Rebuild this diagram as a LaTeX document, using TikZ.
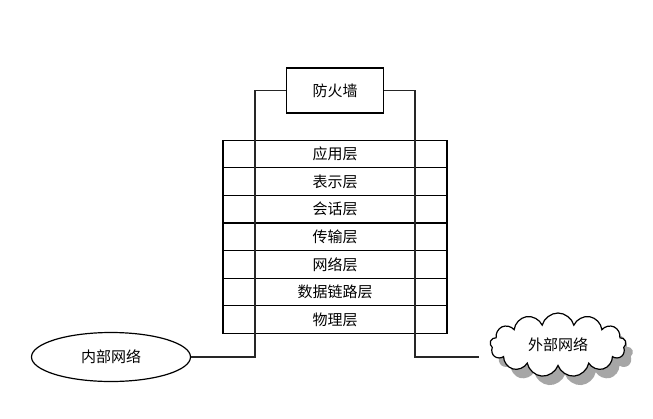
\documentclass[tikz,border=0pt]{standalone}
\usepackage{fontspec}
\newfontfamily\cjk{Noto Sans CJK SC}
\usepackage{tikz}
\usetikzlibrary{
  positioning,
  shapes,
  shapes.symbols,
  shadows,
}
\tikzstyle{layer} = [
  draw,
  rectangle,
  minimum width=224,
  minimum height=27.6,
  inner sep=0pt,
  outer sep=0pt,
  line width=1.2pt,
  font=\cjk\fontsize{15}{17}\selectfont,
]
\tikzstyle{wire} = [
  line width=1.2pt,
  black!85,
]

\begin{document}
\begin{tikzpicture}[x=1pt,y=-1pt,node distance=0mm and 0mm]
      \useasboundingbox (0,0) rectangle (653,418);

      \node[draw,rectangle,minimum width=97,minimum height=45,line width=1.2pt,font=\cjk\fontsize{15}{17}\selectfont]    (fw)  at (335,90.5)  {防火墙};

      \node[layer]    (l7)  at (335,154)  {应用层};
      \node[layer]    (l6)  [below=of l7]  {表示层};
      \node[layer]    (l5)  [below=of l6]  {会话层};
      \node[layer]    (l4)  [below=of l5]  {传输层};
      \node[layer]    (l3)  [below=of l4]  {网络层};
      \node[layer]    (l2)  [below=of l3]  {数据链路层};
      \node[layer]    (l1)  [below=of l2]  {物理层};

      \node[draw,ellipse,minimum width=159,minimum height=49,line width=1.2pt,font=\cjk\fontsize{15}{17}\selectfont]    (inner)  at (111,357)  {内部网络};
      \node[draw,cloud,cloud puffs=13,aspect=2.2,minimum width=136,minimum height=64,line width=1.2pt,fill=white,
            drop shadow={shadow xshift=7pt,shadow yshift=-9pt,fill=gray!70,opacity=1},
            font=\cjk\fontsize{15}{17}\selectfont]    (outer)  at (558,345)  {外部网络};

      \coordinate (ll) at (255,357);
      \coordinate (rr) at (415,357);
      \coordinate (oe) at (479,357);

      \draw[wire] (inner.east) -- (ll) |- (fw.west);
      \draw[wire] (fw.east) -| (rr) -- (oe);

    \end{tikzpicture}
\end{document}
